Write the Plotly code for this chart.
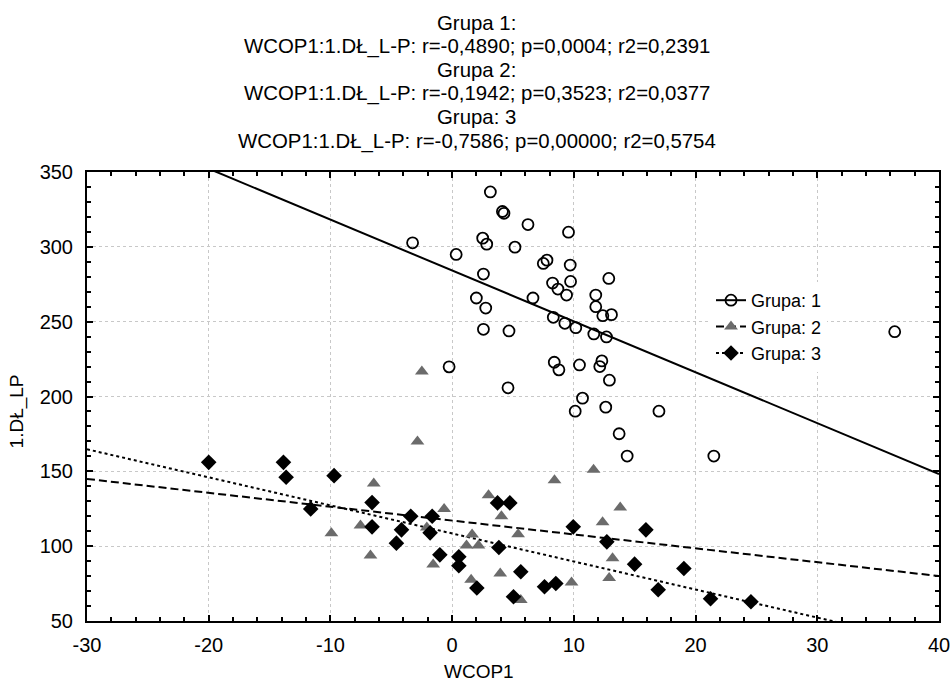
import plotly.graph_objects as go

# ---------------- data ----------------
g1_x = [3.14, 4.13, 4.26, 6.23, 9.56, -3.25, 2.51, 2.84, 5.16, 0.33,
        7.79, 7.49, 9.70, 2.57, 12.87, 9.73, 8.25, 8.69, 9.40, 11.80,
        1.99, 6.64, 2.76, 11.80, 12.38, 13.09, 8.31, 9.26, 10.16, 2.57,
        4.67, 11.64, 12.68, 8.39, 8.77, -0.25, 10.46, 12.30, 12.13, 12.92,
        4.59, 10.71, 10.11, 12.62, 16.99, 36.36, 21.50, 13.72, 14.38]
g1_y = [336.7, 323.6, 322.4, 314.9, 309.8, 302.7, 305.8, 301.8, 299.8, 294.9,
        291.1, 288.9, 287.8, 281.8, 278.9, 276.9, 275.8, 271.8, 267.8, 267.8,
        265.8, 265.8, 259.1, 260.0, 254.0, 254.7, 252.9, 248.9, 246.0, 244.9,
        243.8, 241.8, 239.8, 222.9, 217.8, 219.8, 221.1, 223.8, 220.0, 210.9,
        205.8, 198.9, 190.2, 192.9, 190.2, 243.3, 160.2, 175.1, 160.2]

g2_x = [-2.49, -2.85, -6.44, -0.66, -7.53, -9.92, -6.71, -2.08, -1.56, 1.64,
        1.18, 1.56, 2.16, 11.62, 8.41, 2.99, 4.05, 13.81, 12.36, 5.42,
        13.18, 3.95, 9.81, 12.90, 5.64]
g2_y = [216.7, 170.0, 141.8, 124.9, 113.8, 108.7, 93.8, 112.4, 87.8, 107.8,
        100.4, 77.6, 100.4, 151.1, 144.0, 134.0, 120.0, 125.8, 116.0, 108.0,
        92.0, 81.8, 75.8, 78.7, 64.0]

g3_x = [-20.0, -13.86, -13.64, -9.70, -11.62, -6.58, -6.58, -4.58, -4.16, -3.40,
        -1.64, -1.81, -1.01, 0.55, 0.55, 2.03, 3.73, 4.74, 9.95, 15.92,
        12.71, 3.84, 14.99, 19.04, 5.64, 16.93, 7.59, 8.52, 5.04, 21.23, 24.55]
g3_y = [156.0, 156.0, 146.0, 147.1, 124.9, 129.1, 112.9, 102.0, 110.9, 120.0,
        120.0, 108.9, 94.2, 92.9, 86.9, 72.0, 128.9, 128.9, 112.9, 110.9,
        102.9, 99.1, 88.0, 85.1, 82.9, 70.9, 72.9, 75.1, 66.2, 64.9, 62.9]

# regression lines y = a + b*x
fit_intercepts = [284.2, 117.1, 108.5]
fit_slopes = [-3.40, -0.927, -1.874]

group_names = ["Grupa: 1", "Grupa: 2", "Grupa: 3"]
title_lines = [
    "Grupa 1:",
    "WCOP1:1.DŁ_L-P: r=-0,4890; p=0,0004; r2=0,2391",
    "Grupa 2:",
    "WCOP1:1.DŁ_L-P: r=-0,1942; p=0,3523; r2=0,0377",
    "Grupa: 3",
    "WCOP1:1.DŁ_L-P: r=-0,7586; p=0,00000; r2=0,5754",
]
x_title = "WCOP1"
y_title = "1.DŁ_LP"
x_range = [-30, 40]
y_range = [50, 350]
x_tickvals = [-30, -20, -10, 0, 10, 20, 30, 40]
x_ticktext = ["-30", "-20", "-10", "0", "10", "20", "30", "40"]
y_tickvals = [50, 100, 150, 200, 250, 300, 350]
y_ticktext = ["50", "100", "150", "200", "250", "300", "350"]

# ---------------- styling ----------------
FONT = "Liberation Sans, Arial, sans-serif"
GRAY = "#6b6b6b"
markers = [
    dict(symbol="circle-open", size=11, color="black", line=dict(width=1.8, color="black")),
    dict(symbol="triangle-up", size=12, color=GRAY, line=dict(width=0)),
    dict(symbol="diamond", size=12, color="black", line=dict(width=0)),
]
dashes = ["solid", "8px,4px", "3px,3px"]
xs = [g1_x, g2_x, g3_x]
ys = [g1_y, g2_y, g3_y]

fig = go.Figure()
for i in range(3):
    a, b = fit_intercepts[i], fit_slopes[i]
    fig.add_trace(go.Scatter(
        x=x_range, y=[a + b * x_range[0], a + b * x_range[1]],
        mode="lines", line=dict(color="black", width=2, dash=dashes[i]),
        showlegend=False, hoverinfo="skip"))
for i in range(3):
    fig.add_trace(go.Scatter(
        x=xs[i], y=ys[i], mode="markers", marker=markers[i],
        name=group_names[i], showlegend=False))
for i in range(3):
    fig.add_trace(go.Scatter(
        x=[None], y=[None], mode="lines+markers", name=group_names[i],
        marker=markers[i], line=dict(color="black", width=2, dash=dashes[i])))

L, R, T, B = 87, 12, 172, 62
W, H = 951, 683
pw, ph = W - L - R, H - T - B

def px_to_paper(xp, yp):
    return (xp - L) / pw, (H - B - yp) / ph

annotations = []
line_centers = [22.7, 46.7, 70.0, 94.0, 117.5, 141.7]
for txt, yc in zip(title_lines, line_centers):
    xpp, ypp = px_to_paper(476.5, yc)
    annotations.append(dict(text=txt, x=xpp, y=ypp, xref="paper", yref="paper",
                            xanchor="center", yanchor="middle", showarrow=False,
                            font=dict(size=20.4, color="black", family=FONT)))
xpp, ypp = px_to_paper(478.7, 671)
annotations.append(dict(text=x_title, x=xpp, y=ypp, xref="paper", yref="paper",
                        xanchor="center", yanchor="middle", showarrow=False,
                        font=dict(size=19, color="black", family=FONT)))
xpp, ypp = px_to_paper(16.7, 411.7)
annotations.append(dict(text=y_title, x=xpp, y=ypp, xref="paper", yref="paper",
                        xanchor="center", yanchor="middle", showarrow=False, textangle=-90,
                        font=dict(size=19, color="black", family=FONT)))

axis_common = dict(
    showline=True, linecolor="black", linewidth=2, mirror="allticks",
    ticks="inside", ticklen=6, tickwidth=1.5, tickcolor="black",
    showgrid=True, gridcolor="#c8c8c8", gridwidth=1, griddash="dot",
    zeroline=False, automargin=False,
    tickfont=dict(size=20, color="black", family=FONT),
)
fig.update_xaxes(range=x_range, tickmode="array", tickvals=x_tickvals, ticktext=x_ticktext,
                 ticklabelstandoff=5,
                 minor=dict(dtick=2, tick0=0, ticks="inside", ticklen=4, tickcolor="black", showgrid=False),
                 **axis_common)
fig.update_yaxes(range=y_range, tickmode="array", tickvals=y_tickvals, ticktext=y_ticktext,
                 ticklabelstandoff=8,
                 minor=dict(dtick=10, tick0=0, ticks="inside", ticklen=4, tickcolor="black", showgrid=False),
                 **axis_common)

lx, ly = px_to_paper(711, 282)
fig.update_layout(
    width=W, height=H,
    margin=dict(l=L, r=R, t=T, b=B, pad=0),
    paper_bgcolor="white", plot_bgcolor="white",
    font=dict(family=FONT, size=20, color="black"),
    annotations=annotations,
    legend=dict(x=lx, y=ly, xanchor="left", yanchor="top", bgcolor="white",
                borderwidth=0, font=dict(size=18, color="black", family=FONT),
                itemwidth=30, tracegroupgap=0),
    showlegend=True,
)

fig.write_html("out.html", config={"displayModeBar": False},
               post_script="document.body.style.margin='0';document.body.style.overflow='hidden';")
